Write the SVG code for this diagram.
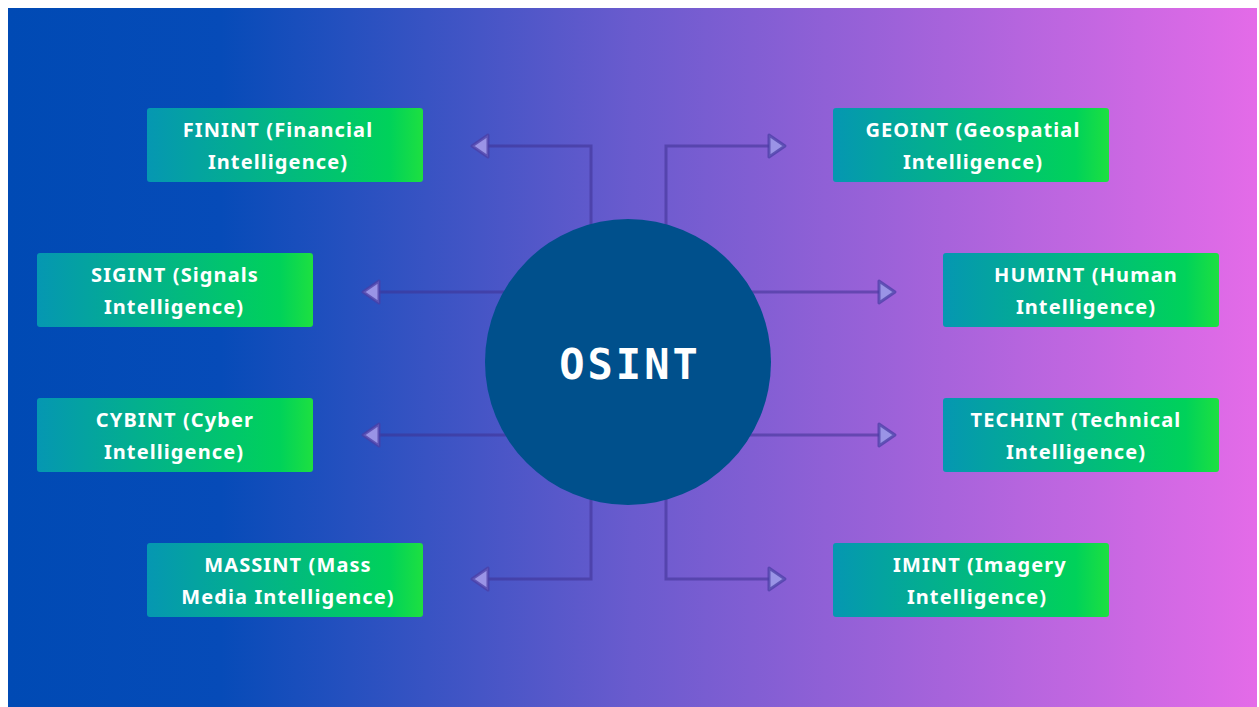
<svg xmlns="http://www.w3.org/2000/svg" width="1259" height="707" viewBox="0 0 1259 707">
  <defs>
    <linearGradient id="bg" x1="0" y1="0" x2="1" y2="0">
      <stop offset="0" stop-color="#004ab4"/>
      <stop offset="0.17" stop-color="#064bb8"/>
      <stop offset="0.5" stop-color="#6a5bce"/>
      <stop offset="1" stop-color="#e46be8"/>
    </linearGradient>
    <linearGradient id="box" x1="0" y1="0" x2="1" y2="0">
      <stop offset="0" stop-color="#0597b2"/>
      <stop offset="0.88" stop-color="#00d25a"/>
      <stop offset="1" stop-color="#1ee040"/>
    </linearGradient>
    <marker id="arr" viewBox="0 0 22 28" refX="3" refY="14" markerWidth="22" markerHeight="28" markerUnits="userSpaceOnUse" orient="auto">
      <polygon points="3,3 19,14 3,25" fill="#9a94e6" stroke="#4b3fa6" stroke-width="3" stroke-linejoin="round" stroke-opacity="0.75"/>
    </marker>
    <style>
      .conn { fill: none; stroke: #3e3292; stroke-opacity: 0.55; stroke-width: 3; marker-end: url(#arr); }
      .box { fill: url(#box); }
      .lbl { font-family: "Noto Sans", "Open Sans", sans-serif; font-weight: 700; font-size: 20px; letter-spacing: 1.1px; fill: #ffffff; text-anchor: middle; }
      .hub { font-family: "DejaVu Sans Mono", "Liberation Mono", monospace; font-weight: 700; font-size: 42px; letter-spacing: 3px; fill: #ffffff; text-anchor: middle; }
    </style>
  </defs>
  <rect x="0" y="0" width="1259" height="707" fill="#ffffff"/>
  <rect x="8" y="8" width="1249" height="699" fill="url(#bg)"/>

  <g id="connectors">
    <path class="conn" d="M591,362 V146 H488"/>
    <path class="conn" d="M666,362 V146 H769"/>
    <path class="conn" d="M628,292 H379"/>
    <path class="conn" d="M628,292 H879"/>
    <path class="conn" d="M628,435 H379"/>
    <path class="conn" d="M628,435 H879"/>
    <path class="conn" d="M591,362 V579 H488"/>
    <path class="conn" d="M666,362 V579 H769"/>
  </g>

  <g id="osint">
    <circle cx="628" cy="362" r="143" fill="#00508c"/>
    <text class="hub" x="630" y="379">OSINT</text>
  </g>

  <g id="finint">
    <rect class="box" x="147" y="108" width="276" height="74" rx="3"/>
    <text class="lbl" x="278" y="137">FININT (Financial</text>
    <text class="lbl" x="278" y="169">Intelligence)</text>
  </g>
  <g id="geoint">
    <rect class="box" x="833" y="108" width="276" height="74" rx="3"/>
    <text class="lbl" x="973" y="137">GEOINT (Geospatial</text>
    <text class="lbl" x="973" y="169">Intelligence)</text>
  </g>
  <g id="sigint">
    <rect class="box" x="37" y="253" width="276" height="74" rx="3"/>
    <text class="lbl" x="175" y="282">SIGINT (Signals</text>
    <text class="lbl" x="174" y="314">Intelligence)</text>
  </g>
  <g id="humint">
    <rect class="box" x="943" y="253" width="276" height="74" rx="3"/>
    <text class="lbl" x="1086" y="282">HUMINT (Human</text>
    <text class="lbl" x="1086" y="314">Intelligence)</text>
  </g>
  <g id="cybint">
    <rect class="box" x="37" y="398" width="276" height="74" rx="3"/>
    <text class="lbl" x="175" y="427">CYBINT (Cyber</text>
    <text class="lbl" x="174" y="459">Intelligence)</text>
  </g>
  <g id="techint">
    <rect class="box" x="943" y="398" width="276" height="74" rx="3"/>
    <text class="lbl" x="1076" y="427">TECHINT (Technical</text>
    <text class="lbl" x="1076" y="459">Intelligence)</text>
  </g>
  <g id="massint">
    <rect class="box" x="147" y="543" width="276" height="74" rx="3"/>
    <text class="lbl" x="288" y="572">MASSINT (Mass</text>
    <text class="lbl" x="288" y="604">Media Intelligence)</text>
  </g>
  <g id="imint">
    <rect class="box" x="833" y="543" width="276" height="74" rx="3"/>
    <text class="lbl" x="980" y="572">IMINT (Imagery</text>
    <text class="lbl" x="977" y="604">Intelligence)</text>
  </g>
</svg>
